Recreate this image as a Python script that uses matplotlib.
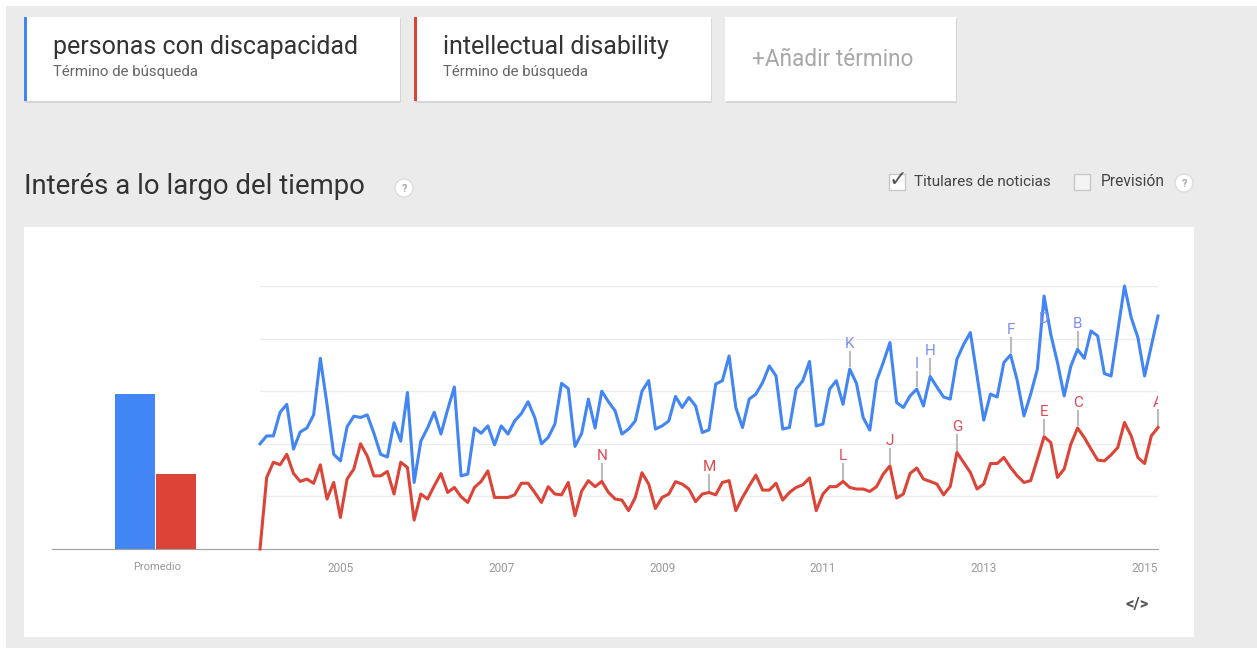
import numpy as np
import matplotlib.pyplot as plt
from matplotlib.patches import Rectangle, Circle

plt.rcParams['font.family'] = ['Roboto', 'DejaVu Sans']

# monthly interest, Jan 2004 .. Mar 2015
blue_values = [
    40, 43, 43, 52, 55, 38, 44.5, 46, 51, 72.5, 55, 36, 33.5, 46.5, 50.5, 50,
    51, 44, 36, 35, 48, 41, 59.5,
    25.3, 41, 46, 52, 43.7, 53, 61.6, 27.8, 28.5, 46, 44, 46.8, 39.6, 46.8,
    43.7, 48.7, 51.5, 56, 50, 40, 42.4, 47.5,
    63, 61, 39, 44, 57, 46, 60, 56, 52.5, 43.7, 45.6, 48.7, 60, 64, 45.6,
    46.8, 48.7, 58, 53.8, 57.6, 54.4, 44.3, 45.3,
    62.7, 64, 73.4, 53.8, 46.2, 57, 58.9, 63.3, 69.6, 65.8, 45.6, 46.2, 60.8,
    64, 71.3, 46.8, 47.5, 60.8, 64, 55, 68.4, 63,
    50, 45.2, 64, 70.9, 78.5, 55.7, 53.8, 58.2, 60.8, 54.4, 65.6, 61.6, 57.8,
    57, 72.2, 77.8, 82.3, 65.8, 49, 58.9, 57.8, 70.9, 73.8,
    64, 50.6, 58.9, 68.4, 96.2, 81.6, 70.9, 58.2, 69.6, 75.9, 72.5, 82.9, 81,
    66.7, 65.8, 83, 100, 88, 80.4, 65.8, 77.2, 88.6,
]
red_values = [
    0, 27.2, 33, 32, 36, 28.7, 25.7, 26.6, 25, 32, 19, 25.3, 12, 26.6, 30.4,
    40, 35.4, 27.8, 27.8, 29.5, 20.9, 33, 31,
    11, 20.9, 19, 24, 28.7, 21.5, 23.4, 19.9, 17.7, 23.4, 25.7, 29.7, 19.6,
    19.6, 19.6, 20.6, 25, 25, 21.5, 17.7, 23.7, 20.9,
    20.6, 25.3, 12.7, 22, 26, 23.7, 25.7, 21.5, 19, 18.6, 14.6, 19.6, 29, 24.7,
    15.4, 19.6, 20.9, 25.6, 24.7, 22.8, 18, 20.9, 21.5,
    20.6, 25.3, 26, 14.6, 19.6, 24, 28.1, 22.4, 22.4, 25, 18.6, 21.5, 23.4,
    24.4, 27, 14.6, 20.9, 23.7, 23.7, 25.7, 23.4, 22.8,
    22.8, 21.9, 23.7, 28.5, 31.6, 19.4, 20.9, 28.7, 30.8, 26.6, 25.7, 24.7,
    20.6, 23.8, 36.7, 32.9, 29.1, 22.8, 24.7, 32.5, 32.5, 34.8, 31,
    27.8, 25.3, 26, 34.2, 42.7, 40.5, 27.2, 30.4, 39.9, 46, 42.4, 38, 33.8,
    33.5, 35.8, 38.6, 48.1, 43, 34.8, 32.5, 43, 46.2,
]
averages = [59, 28.5]
year_labels = ['2005', '2007', '2009', '2011', '2013', '2015']
year_months = [12, 36, 60, 84, 108, 132]

blue_flag_letters = ['K', 'I', 'H', 'F', 'D', 'B']
blue_flag_months = [88, 98, 100, 112, 117, 122]
red_flag_letters = ['N', 'M', 'L', 'J', 'G', 'E', 'C', 'A']
red_flag_months = [51, 67, 87, 94, 104, 117, 122, 134]

terms = ['personas con discapacidad', 'intellectual disability']

BLUE = '#4285f4'
RED = '#db4437'
W, H = 1257, 648

fig = plt.figure(figsize=(W / 100, H / 100), dpi=100)
fig.patch.set_facecolor('#ebebeb')


def fig_rect(x0, y0, x1, y1):
    # pixel box (top-left origin) -> figure fraction [l, b, w, h]
    return [x0 / W, 1 - y1 / H, (x1 - x0) / W, (y1 - y0) / H]


# page canvas in pixel coordinates
bg = fig.add_axes([0, 0, 1, 1], zorder=0)
bg.set_xlim(0, W)
bg.set_ylim(H, 0)
bg.axis('off')

bg.add_patch(Rectangle((0, 0), W, 6, color='white', lw=0))
bg.add_patch(Rectangle((0, 0), 6, H, color='white', lw=0))

# term cards
cards = [(24, 400, BLUE), (414, 711, RED)]
for (x0, x1, col), term in zip(cards, terms):
    bg.add_patch(Rectangle((x0 + 1, 19), x1 - x0, 84, color='#d6d6d6', lw=0))
    bg.add_patch(Rectangle((x0, 17), x1 - x0, 84, color='white', lw=0))
    bg.add_patch(Rectangle((x0, 17), 3, 84, color=col, lw=0))
    bg.text(x0 + 29, 47, term, fontsize=18, color='#333333', va='center')
    bg.text(x0 + 29, 72, 'Término de búsqueda', fontsize=10.8,
            color='#666666', va='center')
bg.add_patch(Rectangle((726, 19), 231, 84, color='#d6d6d6', lw=0))
bg.add_patch(Rectangle((725, 17), 231, 84, color='white', lw=0))
bg.text(752, 60, '+Añadir término', fontsize=16.3, color='#a8a8a8',
        va='center')

# section header
bg.text(24, 186, 'Interés a lo largo del tiempo', fontsize=19.8,
        color='#333333', va='center')


def help_icon(x, y):
    bg.add_patch(Circle((x, y), 9, facecolor='white', edgecolor='#dddddd',
                        lw=1))
    bg.text(x, y + 1, '?', fontsize=8, color='#aaaaaa', ha='center',
            va='center', fontweight='bold')


help_icon(404, 188)
help_icon(1184, 183)

bg.add_patch(Rectangle((889, 174), 16, 16, facecolor='white',
                       edgecolor='#c8c8c8', lw=1))
bg.text(898, 180, '✓', fontsize=16, color='#555555', ha='center',
        va='center', family='DejaVu Sans')
bg.text(914, 182, 'Titulares de noticias', fontsize=11, color='#444444',
        va='center')
bg.add_patch(Rectangle((1074, 174), 16, 16, facecolor='#f4f4f4',
                       edgecolor='#c8c8c8', lw=1))
bg.text(1101, 182, 'Previsión', fontsize=11.2, color='#444444', va='center')

# white chart panel
bg.add_patch(Rectangle((24, 227), 1170, 410, color='white', lw=0))
bg.text(1137, 604, '</>', fontsize=12, color='#555555', ha='center',
        va='center', fontweight='bold')

# average bars
axb = fig.add_axes(fig_rect(52, 286, 260, 549), zorder=2)
axb.patch.set_alpha(0)
axb.bar([0, 1.02], averages, width=1.0, color=[BLUE, RED])
axb.set_xlim(-2.075, 3.125)
axb.set_ylim(0, 100)
axb.set_yticks([])
axb.set_xticks([0.55])
axb.set_xticklabels(['Promedio'], fontsize=8, color='#999999')
axb.tick_params(axis='x', length=0, pad=9)
for s in ['top', 'left', 'right']:
    axb.spines[s].set_visible(False)
axb.spines['bottom'].set_color('#a0a0a0')

# interest over time
ax = fig.add_axes(fig_rect(260, 286, 1158, 549), zorder=3)
ax.patch.set_alpha(0)
ax.plot(np.arange(len(blue_values)), blue_values, color=BLUE, lw=2.2,
        solid_joinstyle='round', zorder=3, clip_on=False)
ax.plot(np.arange(len(red_values)), red_values, color=RED, lw=2.2,
        solid_joinstyle='round', zorder=3, clip_on=False)


def flags(values, letters, months, color):
    for letter, m in zip(letters, months):
        v = values[m]
        if v + 12 > 100:
            stem, txt = (v - 1, v - 5.5), v - 8.6
        else:
            stem, txt = (v + 1, v + 6.5), v + 9.5
        ax.plot([m, m], stem, color='#bbbbbb', lw=1.5, zorder=2,
                clip_on=False)
        ax.text(m, txt, letter, color=color, fontsize=11, ha='center',
                va='center', zorder=4, clip_on=True)


flags(blue_values, blue_flag_letters, blue_flag_months, '#7b8ff5')
flags(red_values, red_flag_letters, red_flag_months, '#e04a55')

ax.set_xlim(0, len(blue_values) - 1)
ax.set_ylim(0, 100)
ax.set_yticks([20, 40, 60, 80, 100])
ax.set_yticklabels([])
ax.yaxis.grid(True, color='#ececec', lw=1)
ax.set_axisbelow(True)
ax.set_xticks(year_months)
ax.set_xticklabels(year_labels, fontsize=8.5, color='#999999')
ax.tick_params(axis='both', length=0)
ax.tick_params(axis='x', pad=9)
for s in ['top', 'left', 'right']:
    ax.spines[s].set_visible(False)
ax.spines['bottom'].set_color('#a0a0a0')

fig.savefig('out.png', dpi=100, facecolor=fig.get_facecolor())
